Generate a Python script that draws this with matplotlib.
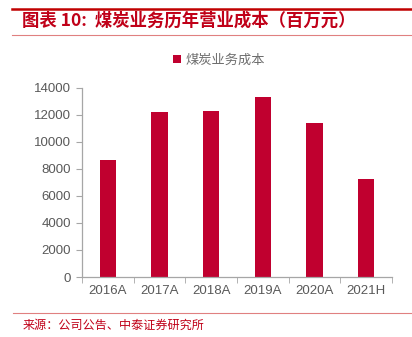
import matplotlib
matplotlib.use("Agg")
import matplotlib.pyplot as plt
from matplotlib.lines import Line2D

plt.rcParams['font.family'] = ['Noto Sans CJK SC', 'DejaVu Sans']

years = ["2016A", "2017A", "2018A", "2019A", "2020A", "2021H"]
coal_cost = [8650, 12210, 12260, 13280, 11360, 7240]
y_ticks = [0, 2000, 4000, 6000, 8000, 10000, 12000, 14000]

W, H = 412, 337
fig = plt.figure(figsize=(W / 100, H / 100), dpi=100)

bar_color = "#C0002F"
red = "#C00018"
axis_gray = "#A6A6A6"
text_gray = "#595959"
latin = ['Liberation Sans', 'DejaVu Sans']

# plot area in pixel terms
left, right, top, bottom = 82, 392, 87.5, 277
ax = fig.add_axes([left / W, 1 - bottom / H, (right - left) / W, (bottom - top) / H])
x = range(len(years))
ax.bar(x, coal_cost, width=0.32, color=bar_color, label="煤炭业务成本")
ax.set_xlim(-0.5, len(years) - 0.5)
ax.set_ylim(0, 14000)
ax.set_yticks(y_ticks)
ax.set_yticklabels([str(v) for v in y_ticks], fontsize=9.5, color=text_gray, family=latin)
ax.set_xticks(list(x))
ax.set_xticklabels(years, fontsize=9.5, color=text_gray, family=latin)
ax.set_xticks([i - 0.5 for i in range(len(years) + 1)], minor=True)
ax.tick_params(axis='x', which='major', length=0, pad=6)
ax.tick_params(axis='x', which='minor', length=4, color=axis_gray, direction='out')
ax.tick_params(axis='y', length=4, color=axis_gray, pad=4)
for s in ("top", "right"):
    ax.spines[s].set_visible(False)
for s in ("left", "bottom"):
    ax.spines[s].set_color(axis_gray)
    ax.spines[s].set_linewidth(0.9)

leg = fig.legend(loc="center", bbox_to_anchor=(219 / W, 1 - 60 / H), frameon=False,
                 fontsize=9.5, handlelength=0.6, handleheight=0.6, handletextpad=0.4)
for t in leg.get_texts():
    t.set_color("#6E6E6E")

# header and footer rules
fig.add_artist(Line2D([12 / W, 1], [1 - 8.5 / H] * 2, color="#C00000", lw=1.8))
fig.add_artist(Line2D([12 / W, 1], [1 - 35 / H] * 2, color="#E08080", lw=0.8))
fig.add_artist(Line2D([13 / W, 1], [1 - 313 / H] * 2, color="#E08080", lw=0.8))

fig.text(22 / W, 1 - 21 / H, "图表 10:  煤炭业务历年营业成本（百万元）", fontsize=12.5,
         fontweight="bold", color=red, va="center", ha="left")
fig.text(23 / W, 1 - 325 / H, "来源：公司公告、中泰证券研究所", fontsize=8.7,
         color="#C00018", va="center", ha="left")

fig.savefig("out.png", dpi=100)
